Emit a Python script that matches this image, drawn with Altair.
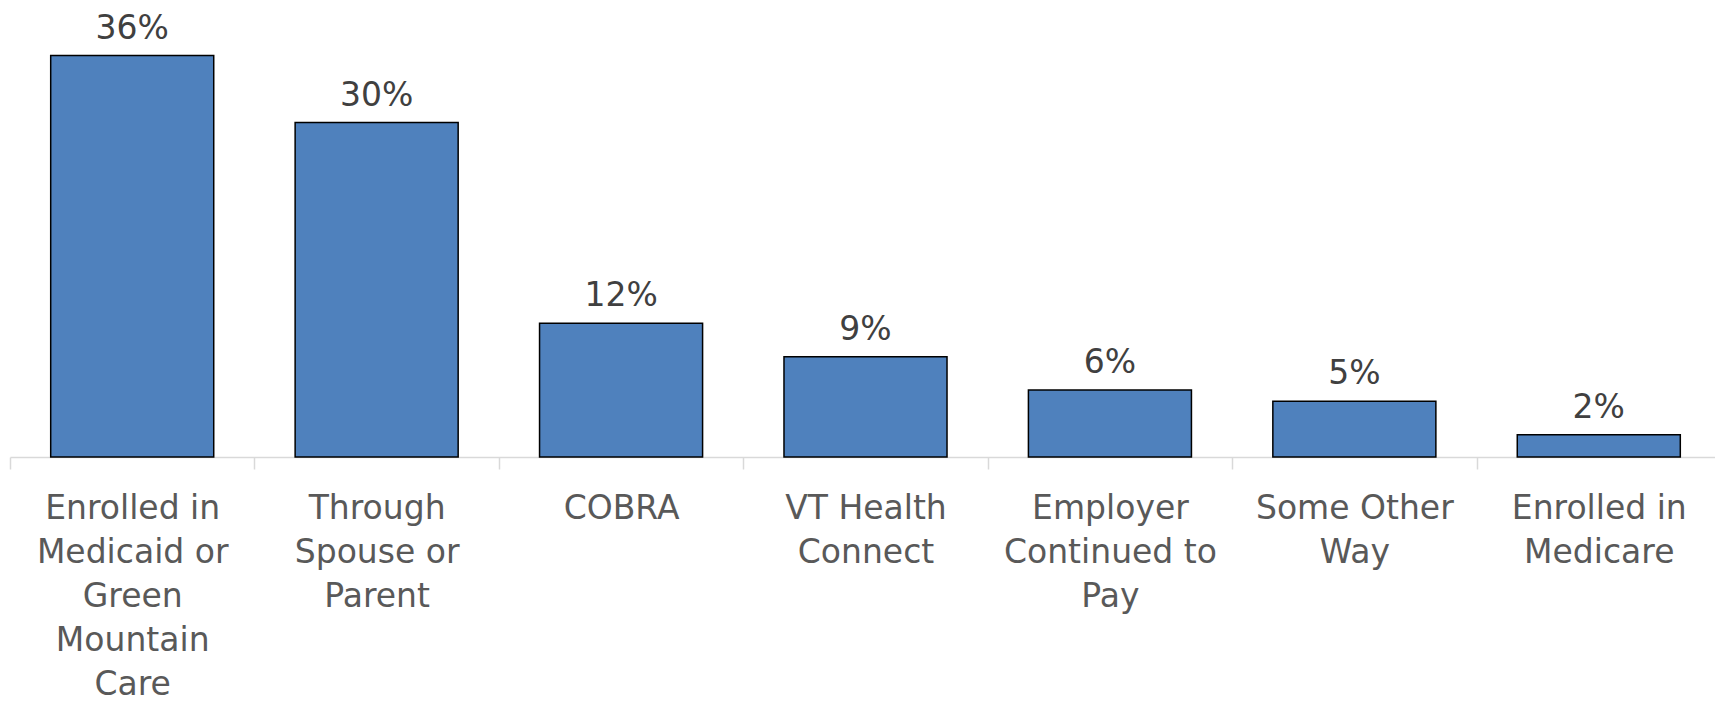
import altair as alt
import pandas as pd

categories = [
    "Enrolled in|Medicaid or|Green|Mountain|Care",
    "Through|Spouse or|Parent",
    "COBRA",
    "VT Health|Connect",
    "Employer|Continued to|Pay",
    "Some Other|Way",
    "Enrolled in|Medicare",
]
values = [36, 30, 12, 9, 6, 5, 2]
value_labels = ["36%", "30%", "12%", "9%", "6%", "5%", "2%"]

df = pd.DataFrame({"cat": categories, "val": values, "lab": value_labels})

FONT = "DejaVu Sans"

x = alt.X(
    "cat:N",
    sort=categories,
    title=None,
    scale=alt.Scale(paddingInner=0, paddingOuter=0, range=[0, 1711]),
    axis=alt.Axis(
        labelExpr="split(datum.label, '|')",
        labelAngle=0,
        labelAlign="center",
        labelBaseline="top",
        labelFont=FONT,
        labelFontSize=33,
        labelColor="#595959",
        labelLineHeight=44,
        labelPadding=23,
        labelLimit=400,
        tickBand="extent",
        tickSize=12,
        tickColor="#d9d9d9",
        tickWidth=1.5,
        domainColor="#d9d9d9",
        domainWidth=1.5,
        grid=False,
    ),
)
y = alt.Y("val:Q", scale=alt.Scale(domain=[0, 40]), axis=None)

bars = alt.Chart(df).mark_bar(
    color="#4F81BD", stroke="#000000", strokeWidth=1.5, width={"band": 0.667}
).encode(x=x, y=y)

text = alt.Chart(df).mark_text(
    font=FONT, fontSize=33, color="#404040", baseline="alphabetic", dy=-17
).encode(x=alt.X("cat:N", sort=categories), y=y, text="lab:N")

chart = (
    alt.layer(bars, text)
    .properties(
        width=1705,
        height=446,
        padding={"left": 2, "top": 3, "right": 0, "bottom": 240},
        autosize=alt.AutoSizeParams(type="none"),
        view=alt.ViewBackground(stroke="transparent", strokeWidth=0),
    )
    .configure_view(stroke="transparent", strokeWidth=0)
    .configure(background="white")
)

chart.save("out.html", embed_options={"renderer": "svg", "actions": False})
